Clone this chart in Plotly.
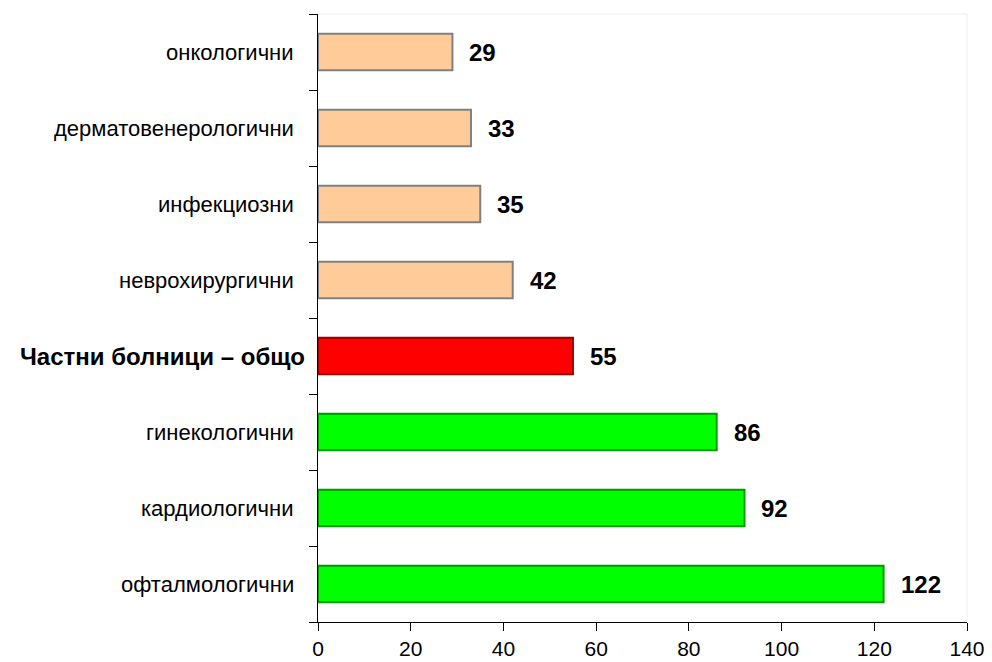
import plotly.graph_objects as go

categories = ["офталмологични", "кардиологични", "гинекологични", "Частни болници – общо",
              "неврохирургични", "инфекциозни", "дерматовенерологични", "онкологични"]
values = [122, 92, 86, 55, 42, 35, 33, 29]
fill_colors = ["#00FF00", "#00FF00", "#00FF00", "#FF0000", "#FFCC99", "#FFCC99", "#FFCC99", "#FFCC99"]
edge_colors = ["#009900", "#009900", "#009900", "#990000", "#808080", "#808080", "#808080", "#808080"]
highlight = "Частни болници – общо"
x_ticks = [0, 20, 40, 60, 80, 100, 120, 140]

FONT = "Liberation Sans, Arial, sans-serif"

fig = go.Figure()
fig.add_trace(go.Bar(
    y=categories, x=values, orientation="h",
    marker=dict(color=fill_colors, line=dict(color=edge_colors, width=2)),
    width=0.48, hoverinfo="skip",
))

for c, v in zip(categories, values):
    fig.add_annotation(x=v, y=c, text="<b>%d</b>" % v, showarrow=False,
                       xanchor="left", xshift=15,
                       font=dict(size=24, color="#000000", family=FONT))
    if c == highlight:
        fig.add_annotation(x=0, xref="paper", y=c, text="<b>%s</b>" % c, showarrow=False,
                           xanchor="right", xshift=-11,
                           font=dict(size=24, color="#000000", family=FONT))
    else:
        fig.add_annotation(x=0, xref="paper", y=c, text=c, showarrow=False,
                           xanchor="right", xshift=-22,
                           font=dict(size=22, color="#000000", family=FONT))

fig.update_layout(
    width=984, height=654,
    margin=dict(l=310, r=25, t=6, b=40, autoexpand=False),
    paper_bgcolor="white", plot_bgcolor="white",
    showlegend=False,
    font=dict(family=FONT, color="#000000", size=18),
    xaxis=dict(range=[0, 140], tickvals=x_ticks, ticks="outside", ticklen=8, tickcolor="#000",
               showline=True, linecolor="#000", linewidth=1, showgrid=False, zeroline=False,
               tickfont=dict(size=21), automargin=False),
    yaxis=dict(type="category", categoryorder="array", categoryarray=categories,
               showticklabels=False, automargin=False,
               tickson="boundaries", ticks="outside", ticklen=8, tickcolor="#000",
               showline=True, linecolor="#000", linewidth=1, showgrid=False,
               range=[-0.5, 7.5]),
    shapes=[dict(type="line", xref="paper", yref="paper", x0=0, x1=1, y0=1, y1=1,
                 line=dict(color="#EEEEEE", width=1)),
            dict(type="line", xref="paper", yref="paper", x0=1, x1=1, y0=0, y1=1,
                 line=dict(color="#EEEEEE", width=1))],
)

fig.write_html("out.html")
